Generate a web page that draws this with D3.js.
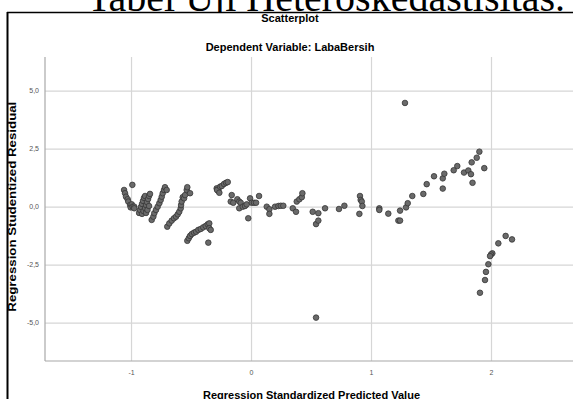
<!DOCTYPE html>
<html>
<head>
<meta charset="utf-8">
<script src="https://cdn.jsdelivr.net/npm/d3@7"></script>
<style>
  body { margin: 0; background: #fff; }
  svg { display: block; }
</style>
</head>
<body>
<svg id="chart" width="573" height="399"></svg>
<script>
// Regression Standardized Predicted Value (x), one line per cluster
const predicted = [
  -1.058, -1.050, -1.042, -1.028, -1.023, -1.008, -1.003, -0.994, -0.986, -0.973, -0.973, -0.989,
  -0.933, -0.925, -0.917, -0.908, -0.900, -0.892, -0.883, -0.908, -0.896, -0.883, -0.875, -0.867, -0.858, -0.850, -0.842, -0.875, -0.863, -0.850,
  -0.828, -0.814, -0.806, -0.792, -0.778, -0.764, -0.753, -0.744, -0.736, -0.725, -0.717, -0.703,
  -0.698, -0.681, -0.661, -0.642, -0.625, -0.611, -0.598, -0.586, -0.583, -0.578, -0.569, -0.558, -0.550, -0.536, -0.531, -0.508,
  -0.531, -0.519, -0.508, -0.494, -0.475, -0.458, -0.439, -0.419, -0.398, -0.378, -0.361, -0.348, -0.348, -0.336, -0.356,
  -0.286, -0.273, -0.283, -0.264, -0.258, -0.244, -0.225, -0.208, -0.194,
  -0.161, -0.169, -0.148, -0.114, -0.098, -0.086, -0.098, -0.069, -0.050, -0.036, -0.008, 0.006, 0.025, 0.042, 0.067, -0.023,
  0.131, 0.153, 0.153, 0.200, 0.228, 0.248, 0.269,
  0.348, 0.375, 0.381, 0.403, 0.423, 0.428,
  0.514, 0.561, 0.617, 0.542, 0.561, 0.542,
  0.733, 0.778, 0.908, 0.914, 0.923, 0.928, 0.903,
  1.069, 1.069, 1.144, 1.228, 1.242, 1.242, 1.292, 1.306, 1.344, 1.436, 1.464, 1.525, 1.598, 1.598, 1.611, 1.689, 1.719, 1.775, 1.811, 1.833, 1.846, 1.839, 1.881, 1.903, 1.944, 1.283,
  2.122, 2.175, 2.061, 2.011, 2.000, 1.992, 1.978, 1.958, 1.950, 1.908
]

// Regression Studentized Residual (y), same order
const residual = [
  0.72, 0.58, 0.43, 0.32, 0.22, 0.07, -0.03, 0.10, 0.00, 0.00, -0.07, 0.94,
  -0.27, -0.14, -0.01, 0.12, 0.25, 0.38, 0.46, -0.31, -0.19, -0.06, 0.07, 0.20, 0.33, 0.46, 0.55, -0.27, -0.14, 0.03,
  -0.57, -0.43, -0.28, -0.14, 0.00, 0.15, 0.29, 0.43, 0.58, 0.72, 0.84, 0.72,
  -0.86, -0.72, -0.60, -0.50, -0.43, -0.33, -0.22, -0.07, 0.07, 0.22, 0.41, 0.36, 0.50, 0.72, 0.84, 0.58,
  -1.47, -1.36, -1.26, -1.18, -1.12, -1.08, -1.00, -0.96, -0.89, -0.83, -0.76, -0.72, -0.93, -1.00, -1.55,
  0.79, 0.68, 0.72, 0.60, 0.86, 0.89, 0.98, 1.03, 1.06,
  0.50, 0.22, 0.17, 0.32, 0.22, 0.17, -0.07, 0.00, 0.03, 0.10, 0.36, 0.17, 0.17, 0.17, 0.46, -0.50,
  0.00, -0.11, -0.31, 0.00, 0.03, 0.04, 0.04,
  -0.07, -0.22, 0.22, 0.32, 0.41, 0.58,
  -0.22, -0.28, -0.07, -0.75, -0.60, -4.78,
  -0.10, 0.04, 0.46, 0.29, 0.22, 0.03, -0.31,
  -0.07, -0.14, -0.30, -0.60, -0.60, -0.17, -0.03, 0.15, 0.46, 0.55, 0.97, 1.31, 1.22, 0.78, 1.42, 1.57, 1.75, 1.47, 1.56, 1.40, 1.03, 1.91, 2.11, 2.37, 1.66, 4.47,
  -1.26, -1.41, -1.58, -2.01, -2.06, -2.13, -2.48, -2.81, -3.16, -3.71
]

const xTicks = [-1, 0, 1, 2]
const yTicks = [-5, -2.5, 0, 2.5, 5]

const W = 573
const H = 399
const plot = { left: 45, right: 578, top: 57, bottom: 361 }
const sans = '"Liberation Sans", Arial, sans-serif'

const points = predicted.map((p, i) => ({ x: p, y: residual[i] }))

const svg = d3.select('#chart')

const x = d3.scaleLinear().domain([-1.717, 2.725]).range([plot.left, plot.right])
const y = d3.scaleLinear().domain([-6.65, 6.45]).range([plot.bottom, plot.top])

// comma decimals, plain hyphen for minus
const fmtY = d => d3.format('.1f')(d).replace('.', ',').replace('\u2212', '-')
const fmtX = d => String(d)

// document caption, the chart picture sits over its lower part
svg.append('text')
  .attr('x', 326)
  .attr('y', 11)
  .attr('text-anchor', 'middle')
  .attr('font-family', '"Liberation Serif", "Times New Roman", serif')
  .attr('font-size', 40)
  .attr('fill', '#000')
  .text('Tabel Uji Heteroskedastisitas.')

svg.append('rect')
  .attr('x', 7)
  .attr('y', 12)
  .attr('width', W)
  .attr('height', H)
  .attr('fill', '#fff')

// frame
svg.append('line')
  .attr('x1', 7).attr('x2', W)
  .attr('y1', 12.5).attr('y2', 12.5)
  .attr('stroke', '#000').attr('stroke-width', 1.3)
svg.append('line')
  .attr('x1', 7.5).attr('x2', 7.5)
  .attr('y1', 12).attr('y2', H)
  .attr('stroke', '#000').attr('stroke-width', 2)

// titles
svg.append('text')
  .attr('x', 290).attr('y', 21.5)
  .attr('text-anchor', 'middle')
  .attr('font-family', sans).attr('font-size', 11).attr('font-weight', 'bold')
  .text('Scatterplot')
svg.append('text')
  .attr('x', 290).attr('y', 50.5)
  .attr('text-anchor', 'middle')
  .attr('font-family', sans).attr('font-size', 11).attr('font-weight', 'bold')
  .text('Dependent Variable: LabaBersih')

// Grid + tick labels
const gx = svg.append('g')
  .attr('transform', `translate(0,${plot.bottom})`)
  .call(d3.axisBottom(x).tickValues(xTicks).tickFormat(fmtX)
    .tickSize(-(plot.bottom - plot.top)).tickPadding(9))
const gy = svg.append('g')
  .attr('transform', `translate(${plot.left},0)`)
  .call(d3.axisLeft(y).tickValues(yTicks).tickFormat(fmtY)
    .tickSize(-(plot.right - plot.left)).tickPadding(6))

for (const g of [gx, gy]) {
  g.select('.domain').remove()
  g.selectAll('.tick line').attr('stroke', '#d6d6d6').attr('stroke-width', 1.2)
  g.selectAll('.tick text')
    .attr('fill', '#555')
    .attr('font-family', sans)
    .attr('font-size', 7)
}

// axis lines
svg.append('line')
  .attr('x1', plot.left).attr('x2', plot.left)
  .attr('y1', plot.top).attr('y2', plot.bottom)
  .attr('stroke', '#a8a8a8').attr('stroke-width', 1.2)
svg.append('line')
  .attr('x1', plot.left).attr('x2', plot.right)
  .attr('y1', plot.bottom).attr('y2', plot.bottom)
  .attr('stroke', '#a8a8a8').attr('stroke-width', 1.2)

// axis titles
svg.append('text')
  .attr('x', (plot.left + plot.right) / 2)
  .attr('y', 398.5)
  .attr('text-anchor', 'middle')
  .attr('font-family', sans).attr('font-size', 11).attr('font-weight', 'bold')
  .text('Regression Standardized Predicted Value')
svg.append('text')
  .attr('transform', 'translate(16,206.7) rotate(-90)')
  .attr('text-anchor', 'middle')
  .attr('font-family', sans).attr('font-size', 11).attr('font-weight', 'bold')
  .attr('textLength', 210).attr('lengthAdjust', 'spacingAndGlyphs')
  .text('Regression Studentized Residual')

// points
svg.append('g')
  .selectAll('circle')
  .data(points)
  .join('circle')
  .attr('cx', d => x(d.x))
  .attr('cy', d => y(d.y))
  .attr('r', 2.8)
  .attr('fill', '#6a6a6a')
  .attr('stroke', '#363636')
  .attr('stroke-width', 0.8)
</script>
</body>
</html>
